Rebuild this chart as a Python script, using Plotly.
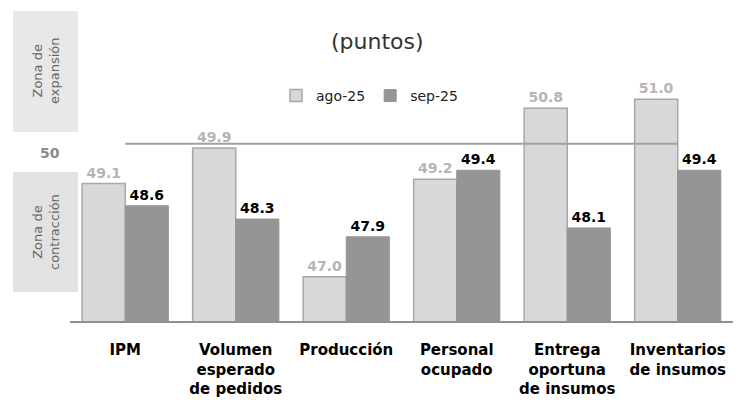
import plotly.graph_objects as go

categories = ["IPM", "Volumen<br>esperado<br>de pedidos", "Producción", "Personal<br>ocupado",
              "Entrega<br>oportuna<br>de insumos", "Inventarios<br>de insumos"]
ago_25 = [49.1, 49.9, 47.0, 49.2, 50.8, 51.0]
sep_25 = [48.6, 48.3, 47.9, 49.4, 48.1, 49.4]
threshold = 50

OFF = 8  # page body margin
W, H = 743 - OFF, 400 - OFF
# plot area in reference (page) pixels: x 70..733, y 55..321
L, R = 70 - OFF, W - (733 - OFF)
T, B = 55 - OFF, H - (321 - OFF)
pw, ph = W - L - R, H - T - B

def px(x):
    return (x - OFF - L) / pw

def py(y):
    return (H - B - (y - OFF)) / ph

FONT = "DejaVu Sans"
xs = list(range(len(categories)))

fig = go.Figure()
fig.add_trace(go.Bar(
    x=xs, y=ago_25, name="ago-25",
    marker=dict(color="#d8d8d8", line=dict(color="#a8a8a8", width=1.5)),
    texttemplate="%{y:.1f}", textposition="outside",
    textfont=dict(family=FONT, size=14, color="#b5b5b5", weight="bold"),
    cliponaxis=False,
))
fig.add_trace(go.Bar(
    x=xs, y=sep_25, name="sep-25",
    marker=dict(color="#959595", line=dict(color="#959595", width=1)),
    texttemplate="%{y:.1f}", textposition="outside",
    textfont=dict(family=FONT, size=14, color="#000000", weight="bold"),
    cliponaxis=False,
))

# 50 threshold line
fig.add_shape(type="line", xref="x", yref="y", x0=0, x1=5, y0=threshold, y1=threshold,
              line=dict(color="#a0a0a0", width=2), layer="above")

# zone boxes
fig.add_shape(type="rect", xref="paper", yref="paper", x0=px(13), x1=px(78), y0=py(132), y1=py(11),
              fillcolor="#e8e8e8", line=dict(width=0), layer="below")
fig.add_shape(type="rect", xref="paper", yref="paper", x0=px(13), x1=px(78), y0=py(292), y1=py(172),
              fillcolor="#e2e2e2", line=dict(width=0), layer="below")

ann = dict(xref="paper", yref="paper", showarrow=False, xanchor="center", yanchor="middle")
fig.add_annotation(x=px(46), y=py(71), text="Zona de<br>expansión", textangle=-90,
                   font=dict(family=FONT, size=13, color="#666666"), **ann)
fig.add_annotation(x=px(46), y=py(232), text="Zona de<br>contracción", textangle=-90,
                   font=dict(family=FONT, size=13, color="#666666"), **ann)
fig.add_annotation(x=px(50), y=py(153), text="<b>50</b>",
                   font=dict(family=FONT, size=14, color="#8a8a8a"), **ann)
fig.add_annotation(x=px(377), y=py(42), text="(puntos)",
                   font=dict(family=FONT, size=22, color="#333333"), **ann)

fig.update_layout(
    width=W, height=H,
    margin=dict(l=L, r=R, t=T, b=B, autoexpand=False),
    paper_bgcolor="white", plot_bgcolor="white",
    barmode="group", bargap=0.22, bargroupgap=0,
    showlegend=True,
    legend=dict(orientation="h", x=px(276), y=py(80), xanchor="left", yanchor="top",
                font=dict(family=FONT, size=14, color="#222222"),
                itemwidth=30, tracegroupgap=0, bgcolor="rgba(0,0,0,0)"),
    xaxis=dict(range=[-0.5, 5.5], tickvals=xs, ticktext=categories, showgrid=False,
               showline=True, linecolor="#909090", linewidth=2, ticks="", ticklabelstandoff=14,
               automargin=False,
               tickfont=dict(family=FONT, size=15, color="#000000", weight="bold"), zeroline=False),
    yaxis=dict(range=[46, 52], visible=False, showgrid=False, zeroline=False, automargin=False),
)

fig.write_html("out.html")
